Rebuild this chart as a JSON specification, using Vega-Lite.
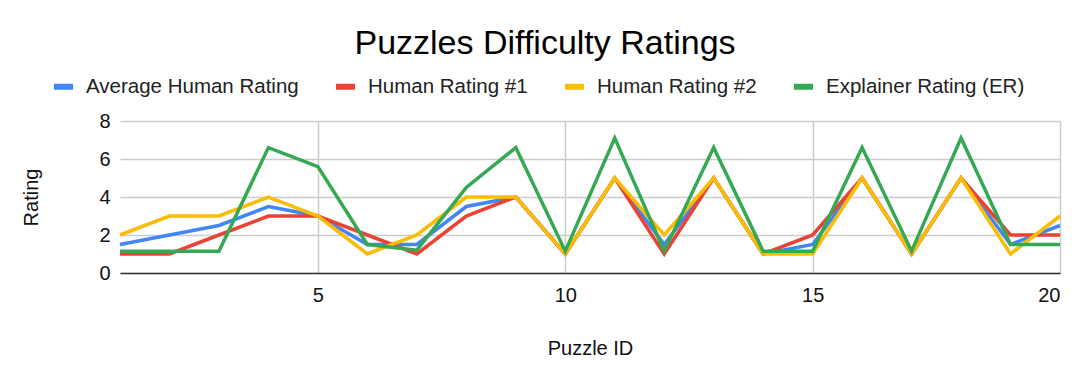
{
  "$schema": "https://vega.github.io/schema/vega-lite/v6.json",
  "autosize": {"type": "none"},
  "width": 940,
  "height": 152,
  "padding": {"left": 120, "top": 121, "right": 20, "bottom": 110},
  "background": "white",
  "config": {
    "font": "Liberation Sans",
    "view": {"stroke": null}
  },
  "title": {
    "text": "Puzzles Difficulty Ratings",
    "fontSize": 34,
    "fontWeight": "normal",
    "color": "#000",
    "anchor": "middle",
    "dx": -45,
    "offset": 13
  },
  "data": {
    "values": [
      {"id": 1, "series": "Average Human Rating", "rating": 1.5},
      {"id": 2, "series": "Average Human Rating", "rating": 2},
      {"id": 3, "series": "Average Human Rating", "rating": 2.5},
      {"id": 4, "series": "Average Human Rating", "rating": 3.5},
      {"id": 5, "series": "Average Human Rating", "rating": 3},
      {"id": 6, "series": "Average Human Rating", "rating": 1.5},
      {"id": 7, "series": "Average Human Rating", "rating": 1.5},
      {"id": 8, "series": "Average Human Rating", "rating": 3.5},
      {"id": 9, "series": "Average Human Rating", "rating": 4},
      {"id": 10, "series": "Average Human Rating", "rating": 1},
      {"id": 11, "series": "Average Human Rating", "rating": 5},
      {"id": 12, "series": "Average Human Rating", "rating": 1.5},
      {"id": 13, "series": "Average Human Rating", "rating": 5},
      {"id": 14, "series": "Average Human Rating", "rating": 1},
      {"id": 15, "series": "Average Human Rating", "rating": 1.5},
      {"id": 16, "series": "Average Human Rating", "rating": 5},
      {"id": 17, "series": "Average Human Rating", "rating": 1},
      {"id": 18, "series": "Average Human Rating", "rating": 5},
      {"id": 19, "series": "Average Human Rating", "rating": 1.5},
      {"id": 20, "series": "Average Human Rating", "rating": 2.5},
      {"id": 1, "series": "Human Rating #1", "rating": 1},
      {"id": 2, "series": "Human Rating #1", "rating": 1},
      {"id": 3, "series": "Human Rating #1", "rating": 2},
      {"id": 4, "series": "Human Rating #1", "rating": 3},
      {"id": 5, "series": "Human Rating #1", "rating": 3},
      {"id": 6, "series": "Human Rating #1", "rating": 2},
      {"id": 7, "series": "Human Rating #1", "rating": 1},
      {"id": 8, "series": "Human Rating #1", "rating": 3},
      {"id": 9, "series": "Human Rating #1", "rating": 4},
      {"id": 10, "series": "Human Rating #1", "rating": 1},
      {"id": 11, "series": "Human Rating #1", "rating": 5},
      {"id": 12, "series": "Human Rating #1", "rating": 1},
      {"id": 13, "series": "Human Rating #1", "rating": 5},
      {"id": 14, "series": "Human Rating #1", "rating": 1},
      {"id": 15, "series": "Human Rating #1", "rating": 2},
      {"id": 16, "series": "Human Rating #1", "rating": 5},
      {"id": 17, "series": "Human Rating #1", "rating": 1},
      {"id": 18, "series": "Human Rating #1", "rating": 5},
      {"id": 19, "series": "Human Rating #1", "rating": 2},
      {"id": 20, "series": "Human Rating #1", "rating": 2},
      {"id": 1, "series": "Human Rating #2", "rating": 2},
      {"id": 2, "series": "Human Rating #2", "rating": 3},
      {"id": 3, "series": "Human Rating #2", "rating": 3},
      {"id": 4, "series": "Human Rating #2", "rating": 4},
      {"id": 5, "series": "Human Rating #2", "rating": 3},
      {"id": 6, "series": "Human Rating #2", "rating": 1},
      {"id": 7, "series": "Human Rating #2", "rating": 2},
      {"id": 8, "series": "Human Rating #2", "rating": 4},
      {"id": 9, "series": "Human Rating #2", "rating": 4},
      {"id": 10, "series": "Human Rating #2", "rating": 1},
      {"id": 11, "series": "Human Rating #2", "rating": 5},
      {"id": 12, "series": "Human Rating #2", "rating": 2},
      {"id": 13, "series": "Human Rating #2", "rating": 5},
      {"id": 14, "series": "Human Rating #2", "rating": 1},
      {"id": 15, "series": "Human Rating #2", "rating": 1},
      {"id": 16, "series": "Human Rating #2", "rating": 5},
      {"id": 17, "series": "Human Rating #2", "rating": 1},
      {"id": 18, "series": "Human Rating #2", "rating": 5},
      {"id": 19, "series": "Human Rating #2", "rating": 1},
      {"id": 20, "series": "Human Rating #2", "rating": 3},
      {"id": 1, "series": "Explainer Rating (ER)", "rating": 1.15},
      {"id": 2, "series": "Explainer Rating (ER)", "rating": 1.15},
      {"id": 3, "series": "Explainer Rating (ER)", "rating": 1.15},
      {"id": 4, "series": "Explainer Rating (ER)", "rating": 6.6},
      {"id": 5, "series": "Explainer Rating (ER)", "rating": 5.6},
      {"id": 6, "series": "Explainer Rating (ER)", "rating": 1.5},
      {"id": 7, "series": "Explainer Rating (ER)", "rating": 1.2},
      {"id": 8, "series": "Explainer Rating (ER)", "rating": 4.5},
      {"id": 9, "series": "Explainer Rating (ER)", "rating": 6.6},
      {"id": 10, "series": "Explainer Rating (ER)", "rating": 1.15},
      {"id": 11, "series": "Explainer Rating (ER)", "rating": 7.1},
      {"id": 12, "series": "Explainer Rating (ER)", "rating": 1.15},
      {"id": 13, "series": "Explainer Rating (ER)", "rating": 6.6},
      {"id": 14, "series": "Explainer Rating (ER)", "rating": 1.15},
      {"id": 15, "series": "Explainer Rating (ER)", "rating": 1.15},
      {"id": 16, "series": "Explainer Rating (ER)", "rating": 6.6},
      {"id": 17, "series": "Explainer Rating (ER)", "rating": 1.15},
      {"id": 18, "series": "Explainer Rating (ER)", "rating": 7.1},
      {"id": 19, "series": "Explainer Rating (ER)", "rating": 1.5},
      {"id": 20, "series": "Explainer Rating (ER)", "rating": 1.5}
    ]
  },
  "mark": {"type": "line", "strokeWidth": 3.5, "interpolate": "linear", "strokeJoin": "miter", "clip": false},
  "encoding": {
    "x": {
      "field": "id",
      "type": "quantitative",
      "scale": {"domain": [1, 20], "nice": false, "zero": false},
      "axis": {
        "title": "Puzzle ID",
        "values": [5, 10, 15, 20],
        "grid": true,
        "gridColor": "#cccccc",
        "gridWidth": 1.5,
        "ticks": false,
        "domainColor": "#333333",
        "domainWidth": 1.5,
        "labelFontSize": 20,
        "labelColor": "#111",
        "labelPadding": 12,
        "labelFont": "Liberation Sans",
        "titleFontSize": 20,
        "titleFontWeight": "normal",
        "titleColor": "#111",
        "titlePadding": 33
      }
    },
    "y": {
      "field": "rating",
      "type": "quantitative",
      "scale": {"domain": [0, 8], "nice": false},
      "axis": {
        "title": "Rating",
        "values": [0, 2, 4, 6, 8],
        "grid": true,
        "gridColor": "#cccccc",
        "gridWidth": 1.5,
        "ticks": false,
        "domain": false,
        "labelFontSize": 20,
        "labelColor": "#111",
        "labelPadding": 10,
        "titleFontSize": 20,
        "titleFontWeight": "normal",
        "titleColor": "#111",
        "titlePadding": 57
      }
    },
    "color": {
      "field": "series",
      "type": "nominal",
      "sort": ["Average Human Rating", "Human Rating #1", "Human Rating #2", "Explainer Rating (ER)"],
      "scale": {
        "domain": ["Average Human Rating", "Human Rating #1", "Human Rating #2", "Explainer Rating (ER)"],
        "range": ["#4285F4", "#EA4335", "#FBBC04", "#34A853"]
      },
      "legend": {
        "title": null,
        "orient": "none",
        "direction": "horizontal",
        "legendX": -69,
        "legendY": -47,
        "symbolType": "stroke",
        "symbolStrokeWidth": 6,
        "symbolSize": 361,
        "labelFontSize": 20.5,
        "labelColor": "#222",
        "labelOffset": 10,
        "columnPadding": 25,
        "labelLimit": 400
      }
    }
  }
}
